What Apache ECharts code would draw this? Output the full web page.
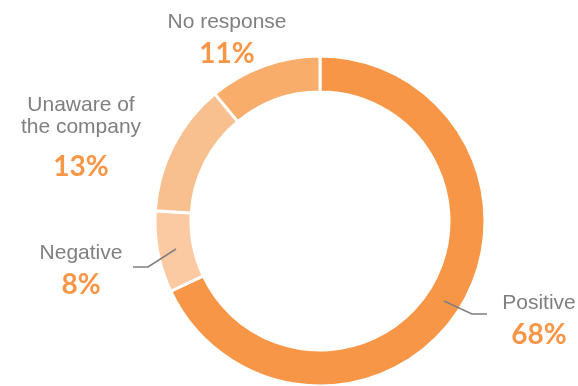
<!DOCTYPE html>
<html>
<head>
<meta charset="utf-8">
<script src="https://cdn.jsdelivr.net/npm/echarts@6/dist/echarts.min.js"></script>
<style>html,body{margin:0;padding:0;background:#fff}#c{width:578px;height:386px}</style>
</head>
<body>
<div id="c"></div>
<script>
const categories = ['Positive', 'Negative', 'Unaware of\nthe company', 'No response'];
const values = [68, 8, 13, 11];
const colors = ['#F79646', '#FBCAA2', '#F9C08F', '#F8AD6B'];

const labelPlaces = [
  { x: 539, y: 321, line: [[444, 301], [472, 314], [487, 314]] },
  { x: 81, y: 271, line: [[176, 249], [148, 267], [133, 267]] },
  { x: 81, y: 145, line: null },
  { x: 227, y: 40, line: null }
];

const richStyles = {
  n: { fontFamily: 'Liberation Sans, Arial, sans-serif', fontSize: 21, color: '#7F7F7F', lineHeight: 28, align: 'center' },
  u: { fontFamily: 'Liberation Sans, Arial, sans-serif', fontSize: 21, color: '#7F7F7F', lineHeight: 22, align: 'center' },
  p: { fontFamily: 'Lato, sans-serif', fontWeight: 'bold', fontSize: 28, color: '#F79646', lineHeight: 36, align: 'center' },
  p2: { fontFamily: 'Lato, sans-serif', fontWeight: 'bold', fontSize: 28, color: '#F79646', lineHeight: 58, align: 'center' }
};

const baseSeries = {
  type: 'pie',
  center: [320, 221],
  radius: [129, 165],
  startAngle: 90,
  clockwise: true,
  avoidLabelOverlap: false
};

const chart = echarts.init(document.getElementById('c'), null, { renderer: 'canvas' });
chart.setOption({
  animation: false,
  backgroundColor: '#fff',
  series: [
    Object.assign({}, baseSeries, {
      z: 2,
      itemStyle: { borderColor: '#fff', borderWidth: 3 },
      label: { show: false },
      labelLine: { show: false },
      data: categories.map((c, i) => ({ name: c, value: values[i], itemStyle: { color: colors[i] } }))
    }),
    Object.assign({}, baseSeries, {
      z: 5,
      silent: true,
      itemStyle: { color: 'rgba(0,0,0,0)', borderWidth: 0 },
      label: {
        show: true,
        position: 'outside',
        formatter: function (p) {
          const isU = p.dataIndex === 2;
          const lines = p.name.split('\n').map(s => '{' + (isU ? 'u' : 'n') + '|' + s + '}').join('\n');
          return lines + '\n{' + (isU ? 'p2' : 'p') + '|' + p.value + '%}';
        },
        rich: richStyles
      },
      labelLine: { show: true, lineStyle: { color: '#7F7F7F', width: 1.5 } },
      labelLayout: function (params) {
        const lp = labelPlaces[params.dataIndex];
        const out = { x: lp.x, y: lp.y, align: 'center', verticalAlign: 'middle' };
        if (lp.line) out.labelLinePoints = lp.line;
        return out;
      },
      data: categories.map((c, i) => ({
        name: c,
        value: values[i],
        labelLine: { show: !!labelPlaces[i].line }
      }))
    })
  ]
});
</script>
</body>
</html>
